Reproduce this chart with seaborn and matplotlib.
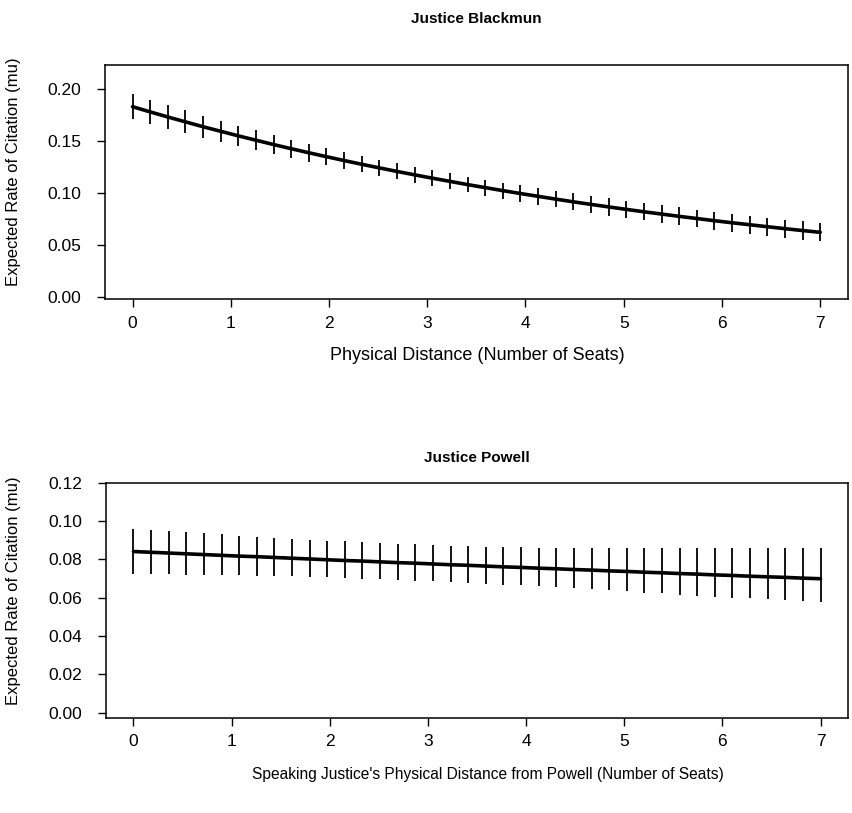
import matplotlib
matplotlib.use("Agg")
import matplotlib.pyplot as plt
import seaborn as sns
import pandas as pd

# ---- data ----
distance = [0.000, 0.179, 0.359, 0.538, 0.718, 0.897, 1.077, 1.256, 1.436, 1.615,
            1.795, 1.974, 2.154, 2.333, 2.513, 2.692, 2.872, 3.051, 3.231, 3.410,
            3.590, 3.769, 3.949, 4.128, 4.308, 4.487, 4.667, 4.846, 5.026, 5.205,
            5.385, 5.564, 5.744, 5.923, 6.103, 6.282, 6.462, 6.641, 6.821, 7.000]

blackmun_mu = [0.1832, 0.1782, 0.1733, 0.1686, 0.1639, 0.1595, 0.1551, 0.1509, 0.1467, 0.1427,
               0.1388, 0.1350, 0.1313, 0.1277, 0.1242, 0.1208, 0.1175, 0.1143, 0.1112, 0.1081,
               0.1052, 0.1023, 0.0995, 0.0968, 0.0941, 0.0915, 0.0890, 0.0866, 0.0842, 0.0819,
               0.0797, 0.0775, 0.0754, 0.0733, 0.0713, 0.0694, 0.0675, 0.0656, 0.0638, 0.0621]
blackmun_lo = [0.1711, 0.1664, 0.1619, 0.1576, 0.1533, 0.1493, 0.1453, 0.1414, 0.1376, 0.1339,
               0.1303, 0.1267, 0.1232, 0.1198, 0.1164, 0.1131, 0.1099, 0.1067, 0.1036, 0.1005,
               0.0975, 0.0946, 0.0917, 0.0889, 0.0861, 0.0834, 0.0808, 0.0783, 0.0758, 0.0735,
               0.0712, 0.0689, 0.0668, 0.0646, 0.0626, 0.0606, 0.0587, 0.0568, 0.0550, 0.0533]
blackmun_hi = [0.1953, 0.1900, 0.1847, 0.1796, 0.1745, 0.1697, 0.1649, 0.1604, 0.1558, 0.1515,
               0.1473, 0.1433, 0.1394, 0.1356, 0.1320, 0.1285, 0.1251, 0.1219, 0.1188, 0.1157,
               0.1129, 0.1100, 0.1073, 0.1047, 0.1021, 0.0996, 0.0972, 0.0949, 0.0926, 0.0903,
               0.0882, 0.0861, 0.0840, 0.0820, 0.0800, 0.0782, 0.0763, 0.0744, 0.0726, 0.0709]

powell_mu = [0.0841, 0.0837, 0.0833, 0.0829, 0.0825, 0.0821, 0.0817, 0.0814, 0.0810, 0.0806,
             0.0802, 0.0798, 0.0794, 0.0791, 0.0787, 0.0783, 0.0780, 0.0776, 0.0772, 0.0769,
             0.0765, 0.0761, 0.0758, 0.0754, 0.0751, 0.0747, 0.0744, 0.0740, 0.0737, 0.0733,
             0.0730, 0.0726, 0.0723, 0.0719, 0.0716, 0.0712, 0.0709, 0.0706, 0.0702, 0.0699]
powell_lo = [0.0724, 0.0723, 0.0722, 0.0721, 0.0720, 0.0718, 0.0717, 0.0715, 0.0713, 0.0711,
             0.0708, 0.0706, 0.0703, 0.0700, 0.0697, 0.0693, 0.0689, 0.0685, 0.0681, 0.0677,
             0.0673, 0.0668, 0.0664, 0.0659, 0.0654, 0.0649, 0.0644, 0.0638, 0.0633, 0.0627,
             0.0622, 0.0616, 0.0611, 0.0606, 0.0601, 0.0597, 0.0592, 0.0588, 0.0583, 0.0579]
powell_hi = [0.0959, 0.0953, 0.0947, 0.0941, 0.0935, 0.0930, 0.0924, 0.0919, 0.0913, 0.0908,
             0.0903, 0.0898, 0.0894, 0.0889, 0.0885, 0.0881, 0.0878, 0.0875, 0.0872, 0.0869,
             0.0867, 0.0865, 0.0863, 0.0861, 0.0860, 0.0859, 0.0858, 0.0858, 0.0858, 0.0858,
             0.0858, 0.0858, 0.0858, 0.0858, 0.0858, 0.0858, 0.0858, 0.0858, 0.0858, 0.0858]

x_ticks = [0, 1, 2, 3, 4, 5, 6, 7]
blackmun_yticks = [0.00, 0.05, 0.10, 0.15, 0.20]
powell_yticks = [0.00, 0.02, 0.04, 0.06, 0.08, 0.10, 0.12]

titles = ["Justice Blackmun", "Justice Powell"]
xlabels = ["Physical Distance (Number of Seats)",
           "Speaking Justice's Physical Distance from Powell (Number of Seats)"]
ylabel = "Expected Rate of Citation (mu)"

# ---- style ----
sns.set_style("ticks")
plt.rcParams["font.family"] = ["Liberation Sans", "DejaVu Sans"]
plt.rcParams["axes.edgecolor"] = "black"
plt.rcParams["axes.linewidth"] = 1.1
plt.rcParams["text.color"] = "black"
plt.rcParams["axes.labelcolor"] = "black"

W, H = 852, 813
fig = plt.figure(figsize=(W / 100, H / 100), dpi=100)

# axes boxes in pixels: (left, top, right, bottom)
boxes = [(105, 65, 847.7, 299), (106, 482.7, 848, 717.5)]

panels = [
    (blackmun_mu, blackmun_lo, blackmun_hi, blackmun_yticks, (-0.0022, 0.2234)),
    (powell_mu, powell_lo, powell_hi, powell_yticks, (-0.0025, 0.12)),
]

title_y = [19, 458]
xlabel_y = [355, 774]
xlabel_x = [477, 488]
xlabel_size = [13, 11.2]
ylabel_center = [172, 591]

for k, (mu, lo, hi, yt, ylim) in enumerate(panels):
    l, t, r, b = boxes[k]
    ax = fig.add_axes([l / W, 1 - b / H, (r - l) / W, (b - t) / H])
    df = pd.DataFrame({"distance": distance, "mu": mu, "lo": lo, "hi": hi})
    sns.lineplot(data=df, x="distance", y="mu", ax=ax, color="black", lw=2.6)
    ax.vlines(df["distance"], df["lo"], df["hi"], color="black", lw=1.3)
    ax.set_xlim(-0.28, 7.28)
    ax.set_ylim(*ylim)
    ax.set_xticks(x_ticks)
    ax.set_xticklabels([str(v) for v in x_ticks])
    ax.set_yticks(yt)
    ax.set_yticklabels(["{:.2f}".format(v) for v in yt])
    ax.tick_params(axis="both", direction="out", length=6, width=1.0,
                   labelsize=12.5, color="black", labelcolor="black")
    ax.tick_params(axis="x", pad=6)
    ax.tick_params(axis="y", pad=11)
    for s in ax.spines.values():
        s.set_visible(True)
        s.set_color("black")
    hpx = b - t
    wpx = r - l
    ax.set_xlabel(xlabels[k], fontsize=xlabel_size[k], va="center")
    ax.xaxis.set_label_coords((xlabel_x[k] - l) / wpx, (b - xlabel_y[k]) / hpx)
    ax.set_ylabel(ylabel, fontsize=12, va="center")
    ax.yaxis.set_label_coords((14 - l) / wpx, (b - ylabel_center[k]) / hpx)
    fig.text(((l + r) / 2) / W, 1 - title_y[k] / H, titles[k], ha="center", va="center",
             fontsize=11, fontweight="bold")

fig.savefig("out.png", dpi=100, facecolor="white")
